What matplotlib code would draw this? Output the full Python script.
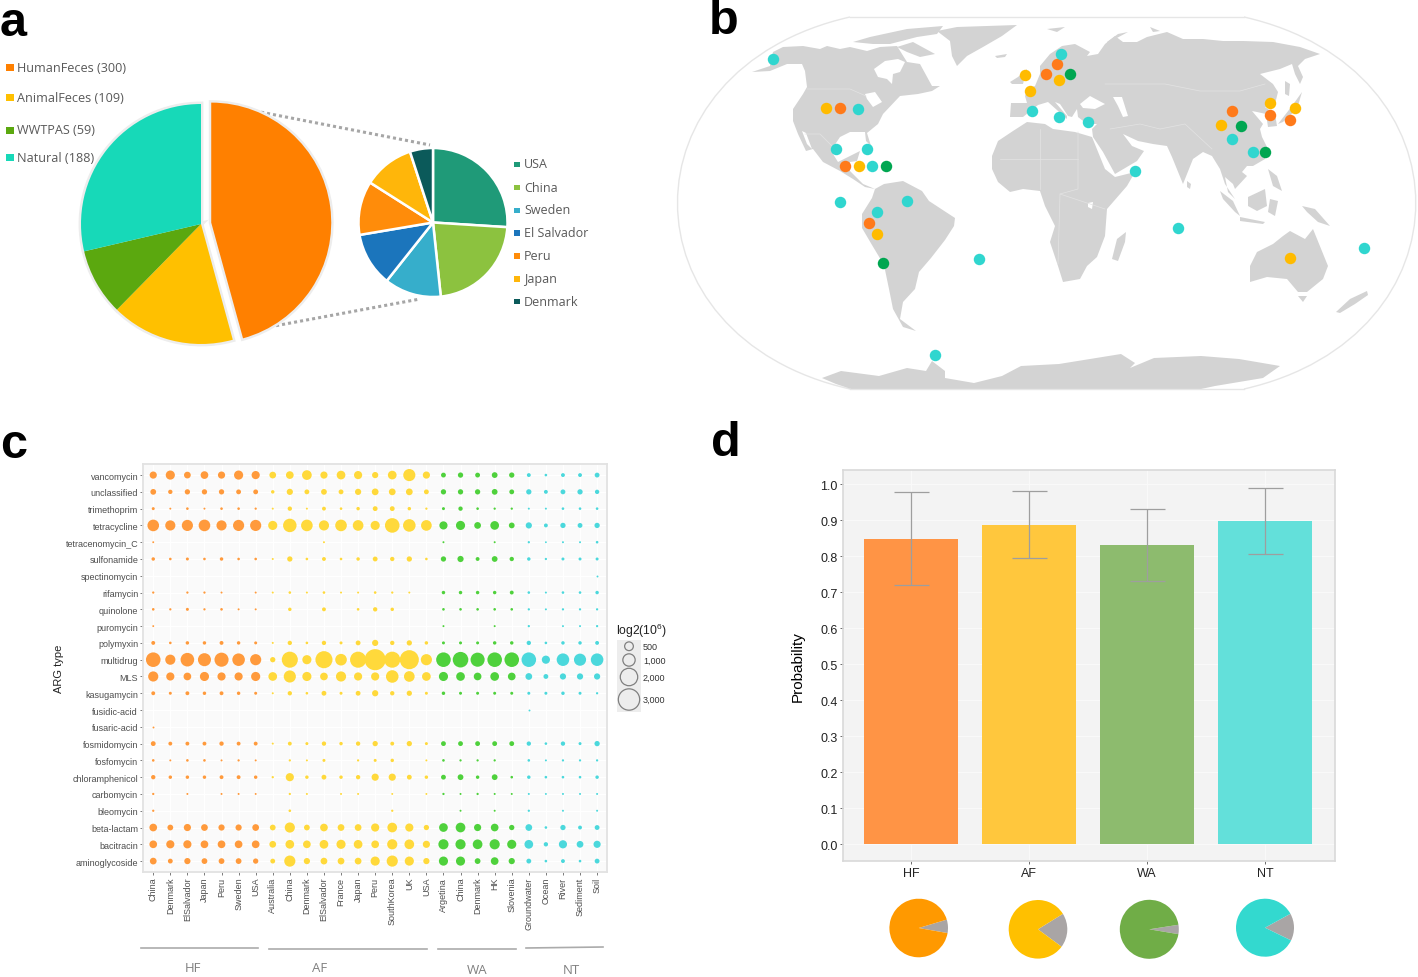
"""Four panel figure: sample pies, sample map, ARG bubble grid, accuracy bars."""

import matplotlib

matplotlib.use("Agg")
import matplotlib.pyplot as plt
import numpy as np
from matplotlib.patches import PathPatch, Polygon, Rectangle
from matplotlib.path import Path

W, H = 1418, 978

# panel a
SOURCE_NAMES = ["HumanFeces (300)", "AnimalFeces (109)", "WWTPAS (59)", "Natural (188)"]
SOURCE_COUNTS = [300, 109, 59, 188]
SOURCE_COLORS = ["#FF8000", "#FFC000", "#5BA80F", "#17D9B8"]
COUNTRY_NAMES = ["USA", "China", "Sweden", "El Salvador", "Peru", "Japan", "Denmark"]
COUNTRY_COUNTS = [78, 67, 37, 35, 35, 33, 15]
COUNTRY_COLORS = ["#1F9A78", "#8CC23F", "#36AECB", "#1B75BC", "#FF8C0A", "#FFB60A", "#0B5A5A"]

# panel b, outlines traced by eye in page pixels
MAP_NORTH_AMERICA = [(752, 73), (770, 67), (773, 53), (783, 48), (803, 47), (820, 50), (827, 47), (840, 50), (850, 48),
                     (867, 52), (880, 48), (897, 47), (907, 63), (920, 65), (932, 87), (940, 87), (932, 92), (918, 95),
                     (900, 97), (883, 115), (878, 125), (867, 134), (871, 147), (866, 142), (865, 133), (850, 133),
                     (840, 138), (832, 150), (833, 155), (838, 163), (850, 157), (860, 152), (857, 162), (850, 163),
                     (850, 172), (863, 185), (875, 190), (865, 188), (853, 180), (840, 172), (823, 163), (813, 150),
                     (806, 152), (798, 135), (793, 122), (793, 110), (803, 95), (807, 88), (805, 72), (802, 65),
                     (787, 65), (770, 72)]
MAP_SOUTH_AMERICA = [(875, 190), (884, 185), (903, 182), (922, 192), (929, 202), (955, 219), (954, 227), (945, 241),
                     (931, 259), (919, 273), (915, 290), (903, 303), (900, 320), (916, 332), (903, 328), (893, 310),
                     (889, 290), (884, 266), (872, 246), (862, 229), (862, 215), (872, 199)]
MAP_EURASIA = [(1010, 118), (1011, 104), (1027, 104), (1025, 97), (1028, 90), (1035, 87), (1040, 75), (1040, 67),
               (1050, 55), (1062, 47), (1075, 45), (1090, 53), (1087, 57), (1098, 55), (1105, 45), (1115, 37),
               (1123, 43), (1137, 43), (1147, 38), (1167, 33), (1183, 40), (1203, 40), (1223, 42), (1243, 42),
               (1273, 43), (1300, 48), (1320, 55), (1305, 60), (1298, 67), (1303, 78), (1300, 85), (1295, 75),
               (1292, 65), (1280, 70), (1260, 75), (1273, 85), (1278, 93), (1275, 105), (1265, 108), (1275, 115),
               (1277, 127), (1268, 128), (1266, 115), (1257, 113), (1252, 112), (1263, 125), (1260, 130), (1262, 138),
               (1268, 150), (1265, 160), (1253, 167), (1247, 167), (1242, 173), (1247, 177), (1235, 190), (1233, 185),
               (1225, 178), (1228, 193), (1235, 200), (1225, 185), (1220, 170), (1212, 157), (1203, 153), (1193, 160),
               (1183, 185), (1172, 158), (1167, 147), (1153, 145), (1138, 142), (1123, 135), (1132, 147), (1144, 152),
               (1137, 162), (1115, 175), (1103, 153), (1093, 138), (1092, 130), (1097, 125), (1087, 125), (1078, 118),
               (1077, 110), (1072, 118), (1068, 117), (1060, 105), (1055, 103), (1067, 117), (1067, 120), (1048, 103),
               (1038, 106), (1023, 118)]
MAP_AFRICA = [(992, 157), (998, 142), (1013, 132), (1027, 123), (1045, 125), (1053, 130), (1075, 133), (1092, 138),
              (1105, 170), (1115, 178), (1135, 173), (1127, 187), (1107, 210), (1105, 237), (1097, 258), (1087, 267),
              (1080, 280), (1063, 283), (1058, 267), (1050, 243), (1055, 227), (1045, 207), (1040, 192), (1023, 190),
              (1010, 193), (998, 183), (992, 170)]
MAP_AUSTRALIA = [(1250, 267), (1257, 253), (1273, 245), (1283, 237), (1290, 232), (1305, 240), (1313, 230), (1328, 267),
                 (1323, 280), (1307, 293), (1298, 293), (1287, 280), (1267, 278), (1250, 283)]
MAP_ANTARCTICA = [(822, 379), (841, 372), (879, 377), (907, 369), (926, 372), (932, 362), (945, 372), (945, 379), (974, 384),
                  (1002, 377), (1021, 367), (1059, 365), (1121, 355), (1135, 364), (1130, 369), (1154, 359), (1201, 357),
                  (1239, 360), (1280, 367), (1263, 379), (1215, 387), (1201, 390), (851, 390), (836, 385)]
MAP_ISLANDS = [
    [(937, 32), (957, 28), (1017, 26), (1002, 37), (983, 48), (967, 57), (957, 67), (952, 57), (950, 42)],
    [(853, 43), (870, 38), (907, 30), (943, 27), (937, 35), (917, 38), (890, 45), (873, 45)],
    [(897, 48), (913, 43), (935, 55), (920, 58), (907, 53)],
    [(1112, 260), (1117, 240), (1126, 233), (1125, 243), (1118, 262)],
    [(1010, 83), (1018, 78), (1027, 70), (1023, 85), (1012, 85)],
    [(995, 57), (1007, 55), (1005, 58), (997, 59)],
    [(1047, 30), (1065, 28), (1057, 33)],
    [(1107, 43), (1118, 35), (1128, 33), (1115, 40), (1108, 47)],
    [(1150, 28), (1160, 32), (1153, 33)],
    [(1278, 125), (1292, 107), (1302, 93), (1297, 110), (1283, 123)],
    [(1285, 82), (1290, 85), (1289, 97), (1285, 95)],
    [(1220, 192), (1233, 202), (1240, 217), (1235, 213), (1223, 200)],
    [(1248, 198), (1265, 190), (1267, 207), (1257, 212), (1248, 207)],
    [(1240, 218), (1265, 223), (1263, 225), (1240, 222)],
    [(1270, 200), (1278, 202), (1275, 217), (1268, 213)],
    [(1302, 207), (1315, 210), (1330, 227), (1318, 223), (1307, 213)],
    [(1268, 170), (1277, 177), (1282, 192), (1273, 187)],
    [(1187, 182), (1191, 185), (1190, 190), (1187, 188)],
    [(1298, 297), (1307, 297), (1303, 303)],
    [(1336, 313), (1350, 300), (1367, 292), (1368, 296), (1355, 305), (1340, 314)],
]
MAP_WATER = [
    [(874, 70), (885, 62), (898, 60), (905, 63), (900, 73), (893, 75), (892, 85), (887, 80), (878, 78)],
    [(865, 95), (875, 93), (882, 103), (873, 108), (867, 100)],
    [(802, 132), (807, 145), (812, 150), (806, 134)],
    [(1080, 105), (1090, 97), (1105, 105), (1095, 110), (1083, 109)],
    [(1113, 98), (1122, 98), (1128, 117), (1123, 118), (1118, 107)],
    [(1088, 204), (1093, 203), (1092, 210), (1088, 208)],
]
MAP_BORDERS = [
    [(807, 90), (850, 90), (866, 97)],
    [(805, 135), (820, 135), (835, 150)],
    [(1040, 130), (1040, 190)],
    [(1000, 160), (1078, 160)],
    [(1078, 133), (1078, 190), (1060, 195), (1058, 265)],
    [(1060, 195), (1105, 210)],
    [(1105, 85), (1165, 85), (1200, 92), (1240, 92), (1265, 85)],
    [(1160, 130), (1185, 125), (1212, 150)],
    [(1110, 130), (1140, 125), (1160, 130)],
]
HF_X = [840, 1057, 1046, 1232, 1270, 1290, 845, 869]
HF_Y = [109, 65, 75, 112, 116, 121, 167, 224]
AF_X = [826, 1025, 1030, 1059, 1221, 1270, 1295, 859, 877, 1290]
AF_Y = [109, 76, 92, 81, 126, 104, 109, 167, 235, 259]
WA_X = [1070, 1241, 1265, 886, 883]
WA_Y = [75, 127, 153, 167, 264]
NT_X = [773, 858, 1061, 1032, 1059, 1088, 836, 867, 872, 1232, 1253, 1135, 840, 907, 877, 1178, 979, 1364, 935]
NT_Y = [60, 110, 55, 112, 118, 123, 150, 150, 167, 140, 153, 172, 203, 202, 213, 229, 260, 249, 356]

# panel c
ARG_TYPES = ["vancomycin", "unclassified", "trimethoprim", "tetracycline", "tetracenomycin_C", "sulfonamide",
             "spectinomycin", "rifamycin", "quinolone", "puromycin", "polymyxin", "multidrug", "MLS", "kasugamycin",
             "fusidic-acid", "fusaric-acid", "fosmidomycin", "fosfomycin", "chloramphenicol", "carbomycin",
             "bleomycin", "beta-lactam", "bacitracin", "aminoglycoside"]
HF_SITES = ["China", "Denmark", "ElSalvador", "Japan", "Peru", "Sweden", "USA"]
AF_SITES = ["Australia", "China", "Denmark", "ElSalvador", "France", "Japan", "Peru", "SouthKorea", "UK", "USA"]
WA_SITES = ["Argetina", "China", "Denmark", "HK", "Slovenia"]
NT_SITES = ["Groundwater", "Ocean", "River", "Sediment", "Soil"]
ABUNDANCE = [
    [320, 530, 280, 370, 320, 530, 420, 280, 370, 600, 320, 480, 420, 235, 480, 950, 320, 135, 165, 135, 200, 165, 80, 26, 80, 80, 135],
    [200, 105, 165, 165, 165, 135, 135, 60, 235, 135, 200, 135, 235, 280, 280, 280, 135, 165, 165, 165, 200, 135, 165, 80, 135, 165, 105],
    [40, 7, 26, 7, 26, 26, 15, 7, 105, 7, 80, 26, 60, 135, 135, 60, 15, 40, 105, 26, 15, 15, 7, 7, 26, 26, 26],
    [870, 660, 800, 870, 660, 800, 800, 530, 1180, 870, 660, 870, 730, 530, 1380, 1020, 730, 420, 530, 280, 480, 200, 235, 80, 165, 135, 165],
    [5, 0, 0, 0, 0, 0, 0, 0, 0, 0, 7, 0, 0, 0, 0, 0, 0, 7, 0, 0, 7, 0, 15, 3, 7, 7, 26],
    [60, 26, 40, 26, 60, 26, 26, 7, 165, 26, 80, 26, 60, 135, 105, 165, 26, 165, 235, 80, 200, 105, 60, 15, 40, 40, 40],
    [0, 0, 0, 0, 0, 0, 0, 0, 0, 0, 0, 0, 0, 0, 0, 0, 0, 0, 0, 0, 0, 0, 0, 0, 0, 0, 5],
    [15, 0, 15, 15, 7, 0, 7, 7, 26, 7, 26, 7, 7, 26, 15, 7, 0, 60, 60, 60, 60, 80, 26, 7, 26, 26, 60],
    [26, 15, 40, 15, 26, 7, 7, 0, 60, 0, 80, 0, 26, 105, 60, 0, 0, 26, 26, 26, 26, 26, 15, 7, 15, 15, 15],
    [5, 0, 0, 0, 0, 0, 0, 0, 0, 0, 0, 0, 0, 0, 0, 0, 0, 7, 0, 0, 7, 0, 15, 0, 7, 7, 15],
    [80, 26, 60, 60, 80, 60, 40, 7, 105, 26, 105, 40, 135, 235, 105, 165, 60, 40, 40, 40, 60, 60, 105, 26, 60, 60, 80],
    [1380, 660, 1200, 1100, 1290, 1020, 800, 165, 1680, 530, 1900, 870, 1680, 2900, 1680, 2370, 800, 1380, 1580, 1290, 1380, 1380, 1380, 420, 1020, 950, 1020],
    [660, 420, 370, 530, 420, 420, 530, 480, 950, 530, 370, 660, 420, 420, 1020, 730, 480, 530, 480, 370, 480, 370, 280, 135, 235, 235, 235],
    [80, 40, 80, 60, 80, 60, 40, 7, 105, 26, 135, 40, 135, 235, 105, 165, 40, 60, 40, 40, 40, 40, 40, 40, 60, 40, 15],
    [0, 0, 0, 0, 0, 0, 0, 0, 0, 0, 0, 0, 0, 0, 0, 0, 0, 0, 0, 0, 0, 0, 5, 0, 0, 0, 0],
    [5, 0, 0, 0, 0, 0, 0, 0, 0, 0, 0, 0, 0, 0, 0, 0, 0, 0, 0, 0, 0, 0, 0, 0, 0, 0, 0],
    [135, 80, 80, 80, 105, 80, 80, 7, 80, 40, 105, 60, 105, 165, 80, 165, 40, 135, 135, 135, 135, 135, 105, 26, 105, 40, 165],
    [26, 7, 26, 26, 7, 15, 7, 0, 15, 7, 40, 0, 15, 40, 60, 0, 7, 26, 15, 15, 15, 0, 26, 7, 15, 15, 15],
    [105, 60, 60, 60, 80, 80, 60, 15, 420, 60, 135, 60, 105, 320, 320, 135, 60, 135, 200, 60, 200, 26, 60, 26, 26, 26, 60],
    [15, 0, 7, 0, 7, 7, 5, 0, 15, 7, 0, 7, 7, 0, 5, 0, 5, 15, 7, 15, 7, 7, 7, 5, 7, 7, 7],
    [15, 0, 0, 0, 0, 0, 0, 0, 26, 0, 0, 0, 0, 0, 15, 0, 0, 0, 7, 0, 7, 0, 15, 0, 7, 0, 7],
    [370, 200, 320, 280, 235, 235, 280, 200, 660, 200, 370, 280, 280, 420, 600, 420, 165, 480, 600, 320, 370, 165, 280, 26, 165, 80, 135],
    [370, 420, 420, 370, 370, 370, 370, 280, 480, 370, 480, 530, 480, 370, 660, 600, 320, 660, 660, 600, 660, 530, 480, 105, 420, 280, 320],
    [280, 135, 235, 200, 200, 200, 165, 135, 800, 235, 280, 280, 280, 530, 800, 530, 235, 530, 530, 200, 370, 235, 135, 26, 80, 26, 135],
]
SIZE_LEGEND = [500, 1000, 2000, 3000]

# panel d
GROUPS = ["HF", "AF", "WA", "NT"]
PROBABILITY = [0.848, 0.887, 0.831, 0.897]
ERR_LOW = [0.720, 0.795, 0.730, 0.805]
ERR_HIGH = [0.977, 0.980, 0.930, 0.990]
WRONG_SHARE = [0.074, 0.190, 0.051, 0.152]

plt.rcParams["font.family"] = ["Liberation Sans", "DejaVu Sans"]
plt.rcParams["mathtext.default"] = "regular"

fig = plt.figure(figsize=(W / 100, H / 100), dpi=100)


def px_axes(x0, y0, x1, y1):
    """Axes placed by reference pixels (y measured from the top)."""
    return fig.add_axes([x0 / W, 1 - y1 / H, (x1 - x0) / W, (y1 - y0) / H])


def pie_axes(cx, cy, r):
    return px_axes(cx - 1.25 * r, cy - 1.25 * r, cx + 1.25 * r, cy + 1.25 * r)


page = fig.add_axes([0, 0, 1, 1], zorder=-1)
page.set_xlim(0, W)
page.set_ylim(H, 0)
page.axis("off")

for label, x, y in [("a", 13, 23), ("b", 724, 22), ("c", 14, 445), ("d", 726, 443)]:
    page.text(x, y, label, fontsize=35, fontweight="bold", ha="center", va="center", color="black")

# panel a
ax = pie_axes(201, 225, 120)
# first pass only gives the soft grey halo round the slices
ax.pie(SOURCE_COUNTS, colors=SOURCE_COLORS, startangle=90, counterclock=False, radius=1,
       explode=[0.086, 0, 0, 0], wedgeprops={"edgecolor": "#EDEDED", "linewidth": 3.5})
ax.pie(SOURCE_COUNTS, colors=SOURCE_COLORS, startangle=90, counterclock=False, radius=1,
       explode=[0.086, 0, 0, 0])
ax.set_xlim(-1.25, 1.25)
ax.set_ylim(-1.25, 1.25)

ax = pie_axes(433, 223.5, 74.5)
ax.pie(COUNTRY_COUNTS, colors=COUNTRY_COLORS, startangle=90, counterclock=False, radius=1,
       wedgeprops={"edgecolor": "white", "linewidth": 1.8})
ax.set_xlim(-1.25, 1.25)
ax.set_ylim(-1.25, 1.25)

page.plot([255, 430], [112, 146], color="#A6A6A6", lw=2.2, ls=(0, (1, 1)))
page.plot([258, 420], [330, 300], color="#A6A6A6", lw=2.2, ls=(0, (1, 1)))

for name, color, y in zip(SOURCE_NAMES, SOURCE_COLORS, [68, 98, 131, 158]):
    page.add_patch(Rectangle((6, y - 3.5), 7.5, 7.5, color=color, lw=0))
    page.text(17, y, name, fontsize=9.05, family="Open Sans", color="#595959", va="center")
for name, color, y in zip(COUNTRY_NAMES, COUNTRY_COLORS, [165, 188, 211, 233.5, 256.5, 279.5, 302]):
    page.add_patch(Rectangle((514, y - 2.5), 5.5, 5.5, color=color, lw=0))
    page.text(524, y, name, fontsize=9, family="Open Sans", color="#595959", va="center")

# panel b
codes = [Path.MOVETO, Path.CURVE4, Path.CURVE4, Path.CURVE4]
page.add_patch(PathPatch(Path([(850, 18), (620, 70), (620, 338), (850, 390)], codes), fc="none", ec="#E6E6E6", lw=1))
page.add_patch(PathPatch(Path([(1244, 18), (1473, 70), (1473, 338), (1244, 390)], codes), fc="none", ec="#E6E6E6", lw=1))
page.plot([850, 1244], [18, 18], color="#E6E6E6", lw=1)
page.plot([850, 1244], [390, 390], color="#E6E6E6", lw=1)
land = [MAP_NORTH_AMERICA, MAP_SOUTH_AMERICA, MAP_EURASIA, MAP_AFRICA, MAP_AUSTRALIA, MAP_ANTARCTICA] + MAP_ISLANDS
for outline in land:
    page.add_patch(Polygon(outline, closed=True, fc="#D3D3D3", ec="none"))
for outline in MAP_WATER:
    page.add_patch(Polygon(outline, closed=True, fc="white", ec="none"))
for line in MAP_BORDERS:
    page.plot(*zip(*line), color="#E3E3E3", lw=0.5)
for xs, ys, color in [(HF_X, HF_Y, "#FF7A1A"), (AF_X, AF_Y, "#FFBB00"), (WA_X, WA_Y, "#00A651"), (NT_X, NT_Y, "#30D6CF")]:
    page.scatter(xs, ys, s=68, color=color, linewidths=0, zorder=3)

# panel c
ax = px_axes(143, 465, 607, 873)
sites = HF_SITES + AF_SITES + WA_SITES + NT_SITES
colors = (["#FF9A3C"] * len(HF_SITES) + ["#FFD93B"] * len(AF_SITES)
          + ["#4FD13C"] * len(WA_SITES) + ["#4BD8DC"] * len(NT_SITES))
abundance = np.array(ABUNDANCE, dtype=float)
for row, values in enumerate(abundance):
    keep = values > 0
    ax.scatter(np.arange(len(sites))[keep], np.full(keep.sum(), len(ARG_TYPES) - 1 - row),
               s=values[keep] * 0.0788 + 1.5, c=np.array(colors)[keep], linewidths=0, zorder=3)
ax.set_xlim(-0.6, 26.58)
ax.set_ylim(-0.65, 23.66)
ax.set_xticks(range(len(sites)))
ax.set_xticklabels(sites, rotation=90)
ax.set_yticks(range(len(ARG_TYPES)))
ax.set_yticklabels(ARG_TYPES[::-1])
ax.tick_params(labelsize=6.5, labelcolor="#4D4D4D", color="#666666", length=2, width=0.6, pad=1.5)
ax.set_facecolor("#FAFAFA")
ax.grid(True, color="white", lw=0.8)
ax.set_axisbelow(True)
for spine in ax.spines.values():
    spine.set_color("#E2E2E2")
    spine.set_linewidth(1.3)
page.text(59, 669, "ARG type", rotation=90, fontsize=8, ha="center", va="center", color="#222222")

for x0, x1, y0, y1, name, tx, ty in [(141, 258, 949, 949, "HF", 193, 968), (269, 427, 950, 950, "AF", 320, 968),
                                     (438, 516, 950, 950, "WA", 477, 970), (526, 603, 949, 948, "NT", 571, 970)]:
    page.plot([x0, x1], [y0, y1], color="#ABABAB", lw=1.2)
    page.text(tx, ty, name, fontsize=9.5, family="Open Sans", color="#808080", ha="center", va="center")

page.text(616, 631, "log2(10$^{6}$)", fontsize=8.7, color="#222222", va="center")
legend_rows = [(640.5, 654), (654, 668), (668, 688), (688, 713)]
for value, (y0, y1) in zip(SIZE_LEGEND, legend_rows):
    y = (y0 + y1) / 2
    page.add_patch(Rectangle((617, y0), 24, y1 - y0, fc="#EDEDED", ec="none"))
    page.scatter([629], [y], s=value * 0.0788, fc="none", ec="#808080", lw=0.9, zorder=3)
    page.text(643, y, f"{value:,}", fontsize=6.5, color="#333333", va="center")

# panel d
ax = px_axes(843, 471, 1335, 862)
xs = np.arange(len(GROUPS))
low = np.array(PROBABILITY) - np.array(ERR_LOW)
high = np.array(ERR_HIGH) - np.array(PROBABILITY)
ax.bar(xs, PROBABILITY, width=0.8, color=["#FF9445", "#FFC73D", "#8DBB6E", "#63E0DA"], zorder=2)
ax.errorbar(xs, PROBABILITY, yerr=[low, high], fmt="none", ecolor="#9E9E9E", elinewidth=0.9, capsize=12.6,
            capthick=0.9, zorder=3)
ax.set_xlim(-0.576, 3.593)
ax.set_ylim(-0.047, 1.039)
ax.set_xticks(xs)
ax.set_xticklabels(GROUPS)
ax.set_yticks(np.arange(0, 1.01, 0.1))
ax.tick_params(labelsize=9, labelcolor="#222222", color="#555555", length=2, width=0.6, pad=2)
ax.set_ylabel("Probability", fontsize=11, labelpad=11)
ax.set_facecolor("#F3F3F3")
ax.grid(True, color="#F9F9F9", lw=0.8)
ax.set_axisbelow(True)
for spine in ax.spines.values():
    spine.set_color("#D9D9D9")
    spine.set_linewidth(1.2)

for share, color, cx, cy, r, start in zip(WRONG_SHARE, ["#FF9900", "#FFC000", "#70AD47", "#33D9CF"],
                                          [918.7, 1038, 1149.3, 1265], [929, 930.3, 930.3, 928.7],
                                          [29.3, 29.3, 29.5, 29], [-10, -36.5, -9.5, -26]):
    ax = pie_axes(cx, cy, r)
    ax.pie([share, 1 - share], colors=["#A9A5A5", color], startangle=start, radius=1)
    ax.set_xlim(-1.25, 1.25)
    ax.set_ylim(-1.25, 1.25)

fig.savefig("out.png", dpi=100)
